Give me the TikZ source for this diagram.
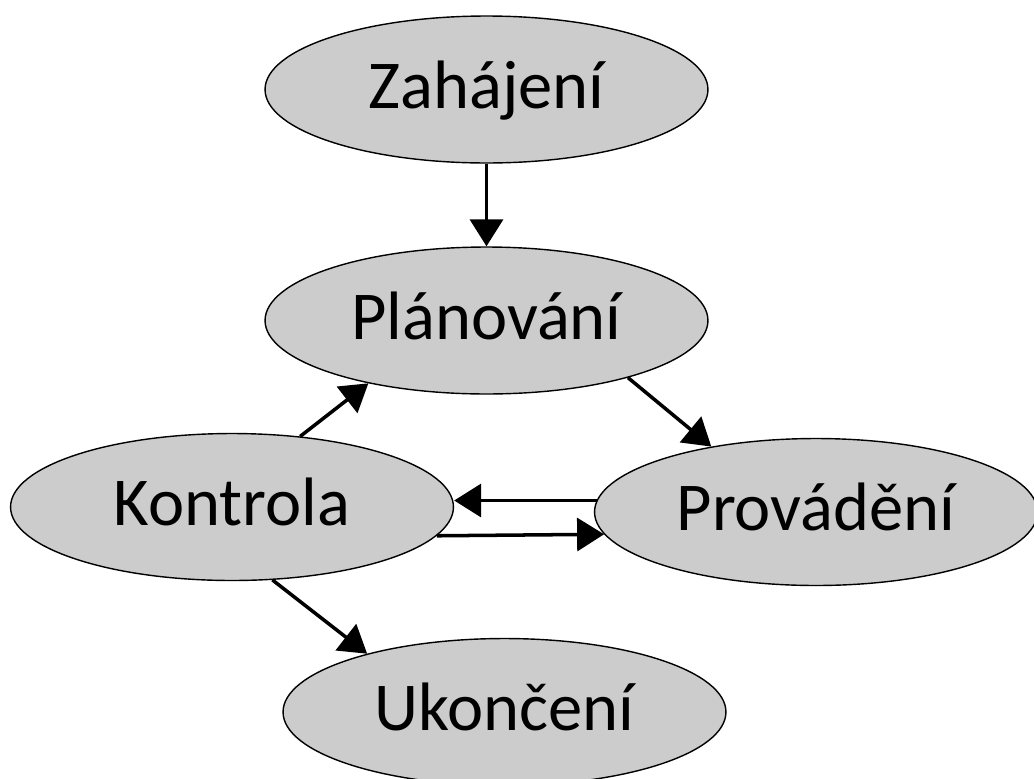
\documentclass[tikz,border=0pt]{standalone}
\usepackage{fontspec}
\setmainfont{Carlito}
\usetikzlibrary{arrows.meta,shapes.geometric}
\begin{document}
\begin{tikzpicture}[x=0.02cm,y=-0.02cm,>={Triangle[width=0.66cm,length=0.54cm]},
  faze/.style={ellipse,draw=black,line width=0.8pt,fill=black!20,minimum width=8.86cm,minimum height=2.94cm,inner sep=0pt,text height=32pt,text depth=10.4pt,font=\fontsize{39}{41}\selectfont},
  sipka/.style={->,line width=2pt}]
\useasboundingbox (0,0) rectangle (1034,778);
\node[faze] (zah) at (486.5,89.5) {Zahájení};
\node[faze] (pla) at (486.5,320.5) {Plánování};
\node[faze] (kon) at (232,507) {Kontrola};
\node[faze] (pro) at (816,512) {Provádění};
\node[faze] (uko) at (504.5,712) {Ukončení};
\draw[sipka] (zah.south)--(pla.north);
\draw[sipka] (pla.-22)--(pro.148.4);
\draw[sipka] (kon.46.6)--(pla.-152);
\draw[sipka] (pro.177.6)--(pro.177.6 -| kon.east);
\draw[sipka] (kon.-8.1)--(pro.186.5);
\draw[sipka] (kon.-61.9)--(uko.157.9);
\end{tikzpicture}
\end{document}
